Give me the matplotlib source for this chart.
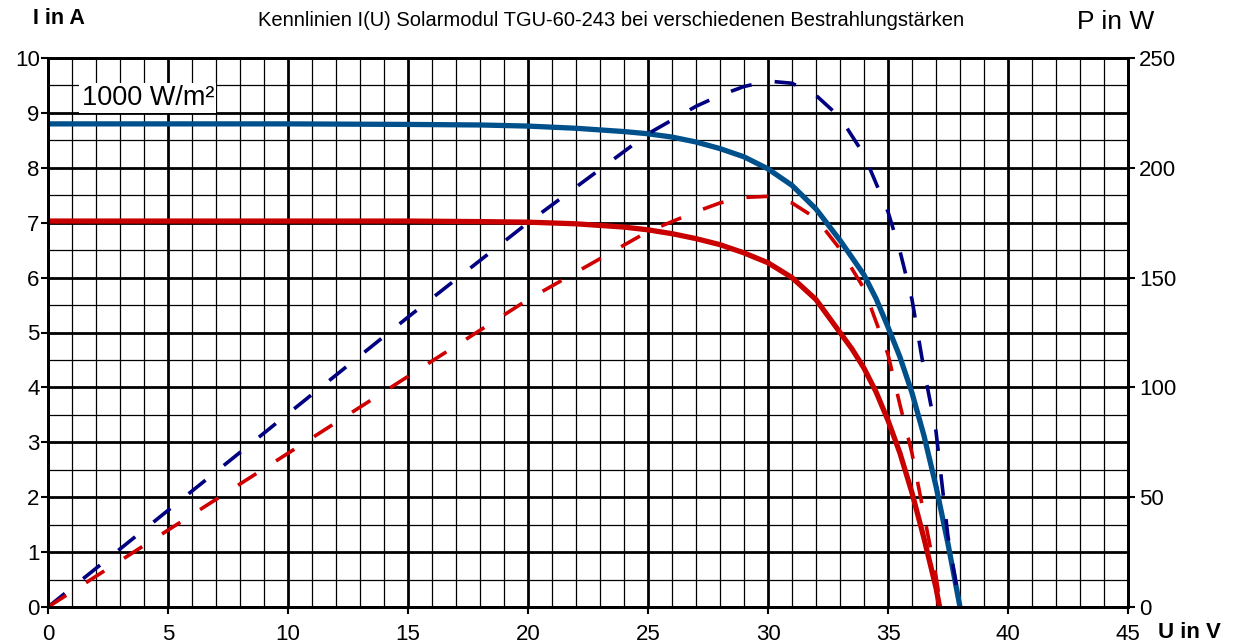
import numpy as np
import matplotlib
matplotlib.use("Agg")
import matplotlib.pyplot as plt

plt.rcParams['font.family'] = ['Liberation Sans', 'DejaVu Sans']

# current curves
u_1000 = [0, 10, 15, 18, 20, 22, 24, 25, 26, 27, 28, 29, 30, 31, 32, 33, 34, 34.5, 35, 35.5, 36, 36.5, 37, 37.5, 38]
i_1000 = [8.8, 8.8, 8.79, 8.78, 8.76, 8.72, 8.66, 8.62, 8.56, 8.47, 8.35, 8.2, 7.98, 7.68, 7.25,
          6.68, 6.05, 5.62, 5.1, 4.55, 3.9, 3.12, 2.2, 1.15, 0]
u_800 = [0, 10, 15, 18, 20, 22, 24, 25, 26, 27, 28, 29, 30, 31, 32, 33, 33.5, 34, 34.5, 35, 35.5, 36, 36.5, 37, 37.15]
i_800 = [7.03, 7.03, 7.03, 7.02, 7.01, 6.98, 6.92, 6.87, 6.8, 6.71, 6.6, 6.45, 6.27, 6.0, 5.6,
         5.0, 4.7, 4.35, 3.92, 3.4, 2.8, 2.08, 1.25, 0.35, 0]

# power curves (right axis)
up_1000 = [0, 5, 10, 15, 20, 25, 27, 28, 29, 30, 31, 32, 33, 34, 35, 35.5, 36, 36.5, 37, 37.5, 38]
p_1000 = [0, 44, 88, 132, 175, 215.5, 228, 233, 237, 239.5, 238.5, 233, 223, 206, 180, 162, 140, 108, 80, 32, 0]
up_800 = [0, 5, 10, 15, 20, 25, 27, 28, 29, 30, 31, 32, 33, 34, 35, 35.5, 36, 36.5, 37, 37.2]
p_800 = [0, 35, 70, 105, 140, 171, 180, 184, 186.5, 187, 184, 177, 163, 145, 115, 92, 70, 42, 14, 0]

fig = plt.figure(figsize=(12.34, 6.43), dpi=100)
ax = fig.add_axes([48/1234, 1 - 607/643, (1128-48)/1234, (607-58)/643])
ax2 = ax.twinx()

ax.set_xlim(0, 45)
ax.set_ylim(0, 10)
ax.set_xticks(range(0, 46, 5))
ax.set_xticks(np.arange(0, 46, 1), minor=True)
ax.set_yticks(range(0, 11))
ax.set_yticks(np.arange(0, 10.01, 0.5), minor=True)
ax.grid(which='minor', color='black', lw=0.9)
ax.grid(which='major', color='black', lw=2.0)
ax.set_axisbelow(True)
ax.tick_params(which='minor', length=0)
ax.tick_params(which='major', length=5, width=1.5, labelsize=16, direction='out')
ax.tick_params(axis='y', pad=1)
ax.tick_params(axis='x', pad=7)

ax2.set_ylim(0, 250)
ax2.set_yticks(range(0, 251, 50))
ax2.tick_params(length=5, width=1.5, labelsize=16, pad=3)

for a in (ax, ax2):
    for s in a.spines.values():
        s.set_linewidth(2)
        s.set_color('black')

ax.plot(u_1000, i_1000, color='#00508C', lw=3.8, solid_joinstyle='round')
ax.plot(u_800, i_800, color='#C80000', lw=3.8, solid_joinstyle='round')
ax2.plot(up_1000, p_1000, color='#000080', lw=2.6, dashes=(6, 6.5))
ax2.plot(up_800, p_800, color='#D00000', lw=2.6, dashes=(6, 6.5))

ax.text(1.4, 9.27, '1000 W/m²', fontsize=19.5, va='center', ha='left',
        bbox=dict(facecolor='white', edgecolor='none', pad=1.5))

fig.text(33/1234, 1 - 18/643, 'I in A', fontsize=15.5, fontweight='bold', va='center', ha='left')
fig.text(611/1234, 1 - 21/643,
         'Kennlinien I(U) Solarmodul TGU-60-243 bei verschiedenen Bestrahlungstärken',
         fontsize=14.5, va='center', ha='center')
fig.text(1077/1234, 1 - 22/643, 'P in W', fontsize=19, va='center', ha='left')
fig.text(1158/1234, 1 - 632/643, 'U in V', fontsize=16, fontweight='bold', va='center', ha='left')

fig.savefig('out.png', dpi=100)
